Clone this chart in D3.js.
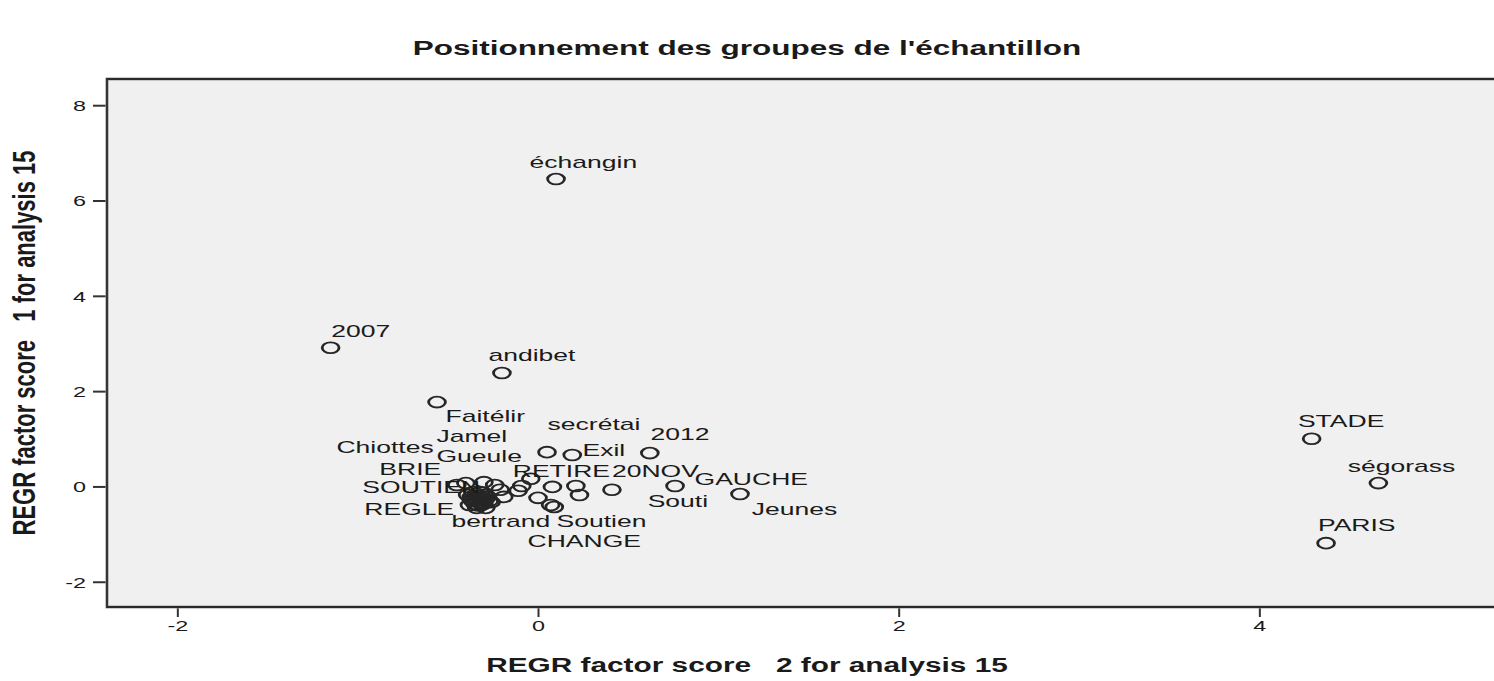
<!DOCTYPE html>
<html>
<head>
<meta charset="utf-8">
<script src="https://cdn.jsdelivr.net/npm/d3@7"></script>
<style>
  html, body { margin: 0; padding: 0; background: #ffffff; }
  svg { display: block; }
  text { font-family: "Liberation Sans", Arial, sans-serif; fill: #1a1a1a; }
</style>
</head>
<body>
<svg id="chart" width="1494" height="681"></svg>
<script>
// ---------- data ----------
const chartTitle = "Positionnement des groupes de l'échantillon";
const xTitle = "REGR factor score   2 for analysis 15";
const yTitle = "REGR factor score   1 for analysis 15";

const xTicks = [-2, 0, 2, 4];
const yTicks = [-2, 0, 2, 4, 6, 8];

// point coordinates: factor 2 (x) and factor 1 (y)
const pointX = [0.10, -1.15, -0.20, -0.56, 0.05, 0.19, 0.62, -0.04, 0.41, 0.76, 1.12,
                4.29, 4.66, 4.37,
                -0.45, -0.40, -0.30, -0.24, -0.21, -0.19, -0.11, -0.09, 0.00, 0.08, 0.07, 0.09, 0.21, 0.23,
                -0.39, -0.37, -0.35, -0.32, -0.30, -0.34, -0.28, -0.36, -0.38, -0.29, -0.32, -0.26,
                -0.34, -0.31, -0.33, -0.30, -0.35, -0.32, -0.29, -0.36, -0.33, -0.31, -0.37, -0.27, -0.34, -0.30];
const pointY = [6.45, 2.91, 2.38, 1.77, 0.72, 0.66, 0.70, 0.16, -0.07, 0.01, -0.16,
                1.00, 0.07, -1.19,
                0.03, 0.07, 0.09, 0.03, -0.07, -0.22, -0.09, 0.01, -0.24, -0.01, -0.39, -0.43, 0.01, -0.18,
                -0.18, -0.28, -0.37, -0.24, -0.35, -0.45, -0.22, -0.12, -0.39, -0.45, -0.12, -0.33,
                -0.30, -0.27, -0.20, -0.29, -0.25, -0.33, -0.26, -0.31, -0.40, -0.38, -0.22, -0.30, -0.16, -0.18];

// case labels and where they sit (data units, left end of the text baseline)
const labelText = ["échangin", "2007", "andibet", "Faitélir", "secrétai", "2012", "Jamel", "Chiottes",
                   "Exil", "Gueule", "BRIE", "RETIRE", "20NOV", "GAUCHE", "SOUTIEN", "Souti",
                   "REGLE", "Jeunes", "bertrand", "Soutien", "CHANGE", "STADE", "ségorass", "PARIS"];
const labelX = [-0.047, -1.146, -0.275, -0.513, 0.053, 0.624, -0.563, -1.118,
                0.247, -0.563, -0.88, -0.14, 0.41, 0.868, -0.974, 0.608,
                -0.963, 1.185, -0.48, 0.103, -0.058, 4.214, 4.49, 4.325];
const labelY = [6.68, 3.14, 2.63, 1.36, 1.18, 0.98, 0.935, 0.703,
                0.64, 0.514, 0.24, 0.20, 0.20, 0.03, -0.136, -0.43,
                -0.60, -0.60, -0.85, -0.85, -1.27, 1.25, 0.30, -0.93];

// ---------- layout ----------
const SX = 1.56;          // the picture is stretched horizontally
const W = 1494, H = 681;
const plot = { left: 107, top: 79, bottom: 607, right: 1501 };

const svg = d3.select("#chart");

const x = d3.scaleLinear().domain([-2.39, 5.34]).range([plot.left, plot.right]);
const y = d3.scaleLinear().domain([-2.53, 8.55]).range([plot.bottom, plot.top]);

// plot background
svg.append("rect")
  .attr("x", plot.left).attr("y", plot.top)
  .attr("width", plot.right - plot.left).attr("height", plot.bottom - plot.top)
  .attr("fill", "#f0f0f0");

// axes
const fmt = d => String(d);
const xAxis = svg.append("g")
  .attr("transform", `translate(0,${plot.bottom})`)
  .call(d3.axisBottom(x).tickValues(xTicks).tickSize(10).tickPadding(3).tickFormat(fmt));
const yAxis = svg.append("g")
  .attr("transform", `translate(${plot.left},0)`)
  .call(d3.axisLeft(y).tickValues(yTicks).tickSize(14).tickPadding(3).tickFormat(fmt));

[xAxis, yAxis].forEach(g => {
  g.select(".domain").remove();
  g.selectAll(".tick line").attr("stroke", "#333").attr("stroke-width", 2);
  g.selectAll(".tick text")
    .attr("fill", "#1a1a1a")
    .style("font-family", "\"Liberation Sans\", Arial, sans-serif")
    .style("font-size", "15px");
});
xAxis.selectAll(".tick text").attr("transform", `scale(${SX},1)`);
yAxis.selectAll(".tick text").attr("x", -21 / SX).attr("dy", "0.36em").attr("transform", `scale(${SX},1)`);

// frame
svg.append("path")
  .attr("d", `M${plot.right},${plot.top}H${plot.left}V${plot.bottom}H${plot.right}`)
  .attr("fill", "none").attr("stroke", "#9a9a9a").attr("stroke-width", 3.2);
svg.append("path")
  .attr("d", `M${plot.right},${plot.top}H${plot.left}V${plot.bottom}H${plot.right}`)
  .attr("fill", "none").attr("stroke", "#2a2a2a").attr("stroke-width", 1.8);

// points (hollow circles, stretched like the picture)
const pts = d3.range(pointX.length).map(i => ({ x: pointX[i], y: pointY[i] }));
svg.append("g").selectAll("circle")
  .data(pts).join("circle")
  .attr("cx", 0).attr("cy", 0).attr("r", 5.4)
  .attr("transform", d => `translate(${x(d.x)},${y(d.y)}) scale(${SX},1)`)
  .attr("fill", "none").attr("stroke", "#262626").attr("stroke-width", 1.8);

// labels
const labs = d3.range(labelText.length).map(i => ({ t: labelText[i], x: labelX[i], y: labelY[i] }));
svg.append("g").selectAll("text")
  .data(labs).join("text")
  .attr("transform", d => `translate(${x(d.x)},${y(d.y)}) scale(${SX},1)`)
  .style("font-size", "17px")
  .text(d => d.t);

// titles
svg.append("text")
  .attr("transform", `translate(${W / 2},55) scale(1.5,1)`)
  .attr("text-anchor", "middle")
  .style("font-size", "21px").style("font-weight", "bold")
  .text(chartTitle);

svg.append("text")
  .attr("transform", `translate(${W / 2},672) scale(1.42,1)`)
  .attr("text-anchor", "middle")
  .style("font-size", "21px").style("font-weight", "bold")
  .style("white-space", "pre")
  .text(xTitle);

svg.append("text")
  .attr("transform", `translate(35,343) scale(1.45,1) rotate(-90)`)
  .attr("text-anchor", "middle")
  .style("font-size", "22px").style("font-weight", "bold")
  .style("white-space", "pre")
  .text(yTitle);
</script>
</body>
</html>
